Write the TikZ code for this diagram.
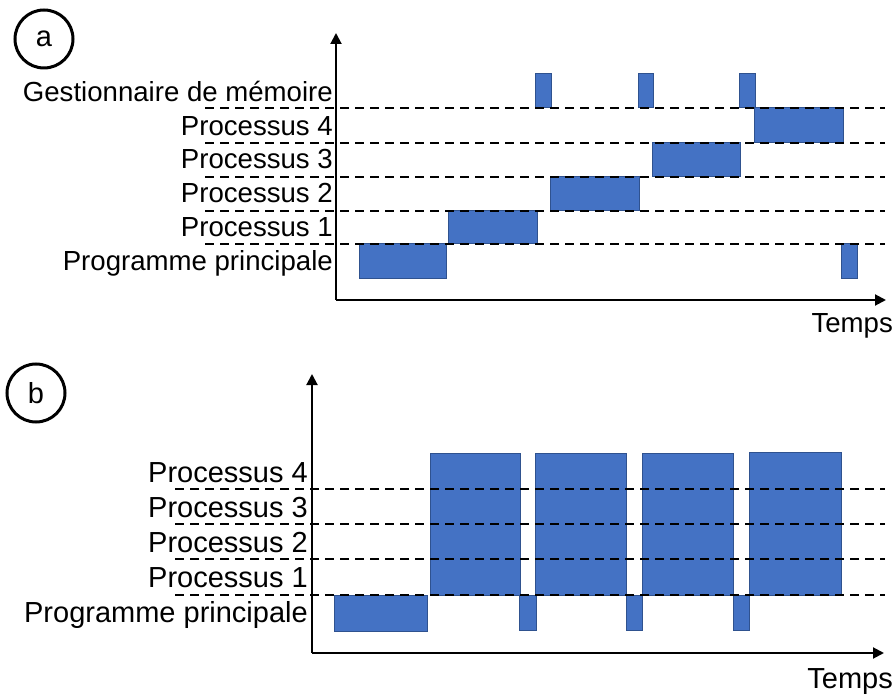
\documentclass[tikz,border=0pt]{standalone}
\usepackage{fontspec}
\setmainfont{Liberation Sans}
\usetikzlibrary{arrows.meta}
\definecolor{blockblue}{HTML}{4472C4}
\definecolor{blockedge}{HTML}{2F528F}
\begin{document}
\begin{tikzpicture}[x=1pt,y=-1pt,
    blk/.style={fill=blockblue,draw=blockedge,line width=1pt},
    lane/.style={dash pattern=on 9pt off 6pt,line width=1.8pt},
    axis/.style={line width=2pt,-{Triangle[length=11pt,width=11pt]}},
    lbl/.style={anchor=base east,inner sep=0pt,font=\fontsize{27.6}{32}\selectfont},
    lblb/.style={lbl,font=\fontsize{29}{33}\selectfont},
    tag/.style={circle,draw,line width=3pt,minimum size=58pt,inner sep=0pt,font=\fontsize{29}{33}\selectfont}]
    \useasboundingbox (0,0) rectangle (895,695);

    % panel a
    \node[tag] (taga) at (44,39) {a};
    \coordinate (oa) at (336,300);
    \coordinate (ya) at (336,33);
    \coordinate (xa) at (886,300);

    \draw[blk] (359,244) rectangle (446,279);
    \draw[blk] (448,211) rectangle (537,244);
    \draw[blk] (550,177) rectangle (639,211);
    \draw[blk] (652,143) rectangle (740,177);
    \draw[blk] (754,108) rectangle (843,143);
    \draw[blk] (535,74) rectangle (551,108);
    \draw[blk] (638,74) rectangle (653,108);
    \draw[blk] (739,74) rectangle (755,108);
    \draw[blk] (841,244) rectangle (857,279);

    \foreach \y in {108,143,177,211,244}
        \draw[lane] (205,\y) -- (885,\y);

    \draw[axis] (oa) -- (ya);
    \draw[axis] (oa) -- (xa);

    \node[lbl] (mema) at (333,102) {Gestionnaire de mémoire};
    \node[lbl] (p4a) at (333,136) {Processus 4};
    \node[lbl] (p3a) at (333,169) {Processus 3};
    \node[lbl] (p2a) at (333,203) {Processus 2};
    \node[lbl] (p1a) at (333,237) {Processus 1};
    \node[lbl] (maina) at (333,271) {Programme principale};
    \node[lbl] (tempsa) at (893,333) {Temps};

    % panel b
    \node[tag] (tagb) at (36,393) {b};
    \coordinate (ob) at (312,653);
    \coordinate (yb) at (312,374);
    \coordinate (xb) at (884,653);

    \draw[blk] (334,595) rectangle (427,631);
    \draw[blk] (430,453) rectangle (520,595);
    \draw[blk] (535,453) rectangle (626,595);
    \draw[blk] (642,453) rectangle (733,595);
    \draw[blk] (749,452) rectangle (841,595);
    \draw[blk] (519,595) rectangle (536,630);
    \draw[blk] (626,595) rectangle (642,630);
    \draw[blk] (733,595) rectangle (749,630);

    \foreach \y in {489,524,559,595}
        \draw[lane] (175,\y) -- (885,\y);

    \draw[axis] (ob) -- (yb);
    \draw[axis] (ob) -- (xb);

    \node[lblb] (p4b) at (308,482) {Processus 4};
    \node[lblb] (p3b) at (308,517) {Processus 3};
    \node[lblb] (p2b) at (308,552) {Processus 2};
    \node[lblb] (p1b) at (308,587) {Processus 1};
    \node[lblb] (mainb) at (308,622) {Programme principale};
    \node[lblb] (tempsb) at (893,688) {Temps};
\end{tikzpicture}
\end{document}
